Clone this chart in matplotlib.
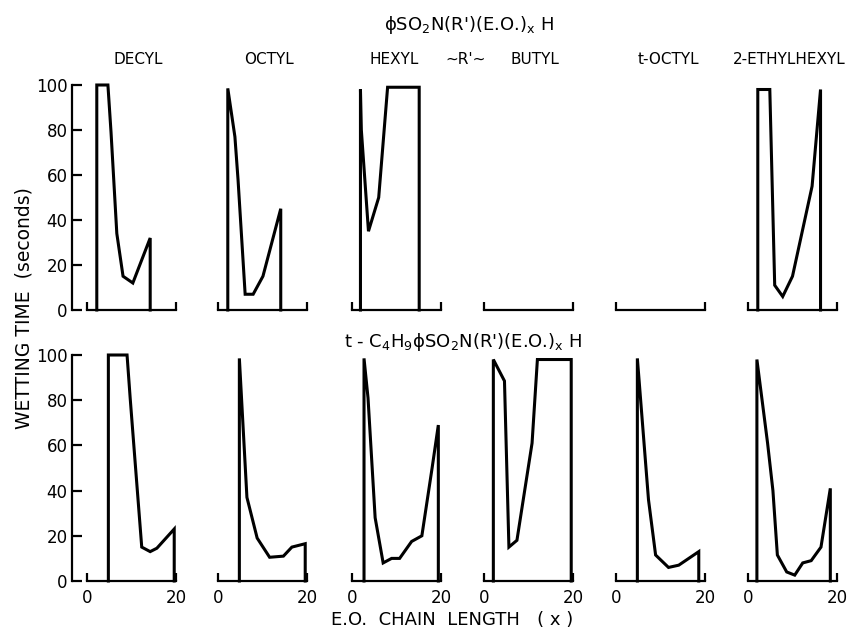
import matplotlib
matplotlib.use("Agg")
import matplotlib.pyplot as plt
from matplotlib import font_manager

# column headings and row formulas
columns = ["DECYL", "OCTYL", "HEXYL", "BUTYL", "t-OCTYL", "2-ETHYLHEXYL"]
title_top = r"ϕSO$_2$N(R')(E.O.)$_x$ H"
title_bottom = r"t - C$_4$H$_9$ϕSO$_2$N(R')(E.O.)$_x$ H"

# wetting time (s) vs E.O. chain length
# top row: phi-SO2N(R')(E.O.)xH
decyl_top_x = [2.2, 4.7, 5.4, 6.7, 8.1, 10.3, 14.2]
decyl_top_y = [100, 100, 79, 34, 15, 12, 32]
octyl_top_x = [2.2, 3.8, 4.5, 6.1, 7.9, 10.1, 14.1]
octyl_top_y = [98.5, 77, 58, 7, 7, 15, 45]
hexyl_top_x = [1.9, 2.1, 3.7, 6.0, 8.0, 15.1]
hexyl_top_y = [98, 80, 35, 50, 99, 99]
butyl_top_x = []
butyl_top_y = []
toctyl_top_x = []
toctyl_top_y = []
ethylhexyl_top_x = [2.2, 4.9, 6.0, 7.8, 10.0, 14.4, 16.3]
ethylhexyl_top_y = [98, 98, 11, 6, 15, 55, 98]

# bottom row: t-C4H9-phi-SO2N(R')(E.O.)xH
decyl_bot_x = [4.8, 9.0, 9.7, 10.8, 12.3, 14.2, 15.7, 19.6]
decyl_bot_y = [100, 100, 81, 53, 15, 13, 14.5, 23]
octyl_bot_x = [4.8, 6.5, 8.8, 11.6, 14.7, 16.6, 19.6]
octyl_bot_y = [98.5, 37, 19, 10.5, 11, 15, 16.5]
hexyl_bot_x = [2.7, 3.6, 5.2, 7.0, 8.9, 10.7, 13.4, 15.7, 18.0, 19.4]
hexyl_bot_y = [98.5, 81, 28, 8, 10, 10, 17.5, 20, 50, 69]
butyl_bot_x = [2.1, 4.6, 5.6, 7.4, 10.8, 12.0, 19.6]
butyl_bot_y = [98, 88.5, 15, 18, 61, 98, 98]
toctyl_bot_x = [4.8, 7.3, 8.9, 11.8, 14.1, 18.6]
toctyl_bot_y = [98.5, 36, 11.5, 6, 7, 13]
ethylhexyl_bot_x = [2.0, 4.4, 5.6, 6.6, 8.7, 10.5, 12.3, 14.2, 16.4, 18.5]
ethylhexyl_bot_y = [98, 61, 40, 11.5, 4, 2.6, 8, 9, 15, 41]

rows = [
    [(decyl_top_x, decyl_top_y), (octyl_top_x, octyl_top_y), (hexyl_top_x, hexyl_top_y),
     (butyl_top_x, butyl_top_y), (toctyl_top_x, toctyl_top_y), (ethylhexyl_top_x, ethylhexyl_top_y)],
    [(decyl_bot_x, decyl_bot_y), (octyl_bot_x, octyl_bot_y), (hexyl_bot_x, hexyl_bot_y),
     (butyl_bot_x, butyl_bot_y), (toctyl_bot_x, toctyl_bot_y), (ethylhexyl_bot_x, ethylhexyl_bot_y)],
]

x_ticks = [0, 20]
y_ticks = [0, 20, 40, 60, 80, 100]

names = {f.name for f in font_manager.fontManager.ttflist}
family = "Liberation Sans Narrow" if "Liberation Sans Narrow" in names else "DejaVu Sans"
plt.rcParams["font.family"] = [family, "DejaVu Sans"]
plt.rcParams["mathtext.fontset"] = "custom"
plt.rcParams["mathtext.rm"] = family
plt.rcParams["mathtext.default"] = "regular"

W, H = 850, 633
fig = plt.figure(figsize=(8.5, 6.33), dpi=100)


def fx(px):
    return px / W


def fy(py):
    return 1 - py / H


col_left = [87, 218, 352, 484, 616, 748]
panel_w = 89
row_px = [(310, 85), (581, 355)]   # (y of 0, y of 100) in pixels

for r, (y0, y100) in enumerate(row_px):
    for c in range(6):
        ax = fig.add_axes([fx(col_left[c]), fy(y0), panel_w / W, (y0 - y100) / H])
        ax.set_xlim(0, 20)
        ax.set_ylim(0, 100)
        ax.patch.set_visible(False)
        for s in ("top", "right", "left"):
            ax.spines[s].set_visible(False)
        ax.spines["bottom"].set_linewidth(1.6)
        ax.set_xticks(x_ticks)
        ax.tick_params(axis="x", direction="in", length=6, width=1.6,
                       labelsize=12, pad=6, labelbottom=(r == 1))
        ax.set_yticks([])

        if c == 0:
            ax.spines["left"].set_visible(True)
            ax.spines["left"].set_position(("outward", 11))
            ax.spines["left"].set_linewidth(1.6)
            ax.set_yticks(y_ticks)
            ax.tick_params(axis="y", direction="in", length=7, width=1.6,
                           labelsize=12, pad=3)

        xs, ys = rows[r][c]
        if xs:
            ax.plot([xs[0]] + xs + [xs[-1]], [0] + ys + [0],
                    color="black", lw=2.2, clip_on=False, solid_joinstyle="miter")

# column headings
head_x = [138, 269, 394, 535, 668, 789]
for name, px in zip(columns, head_x):
    fig.text(fx(px), fy(60), name, ha="center", va="center", fontsize=11)
fig.text(fx(466), fy(60), "~R'~", ha="center", va="center", fontsize=11)

fig.text(fx(469), fy(25), title_top, ha="center", va="center", fontsize=13)
fig.text(fx(463), fy(342), title_bottom, ha="center", va="center", fontsize=13)

fig.text(fx(24), fy(308), "WETTING TIME  (seconds)", rotation=90,
         ha="center", va="center", fontsize=13.5)
fig.text(fx(452), fy(620), "E.O.  CHAIN  LENGTH   ( x )", ha="center",
         va="center", fontsize=13)

fig.savefig("out.png", dpi=100, facecolor="white")
